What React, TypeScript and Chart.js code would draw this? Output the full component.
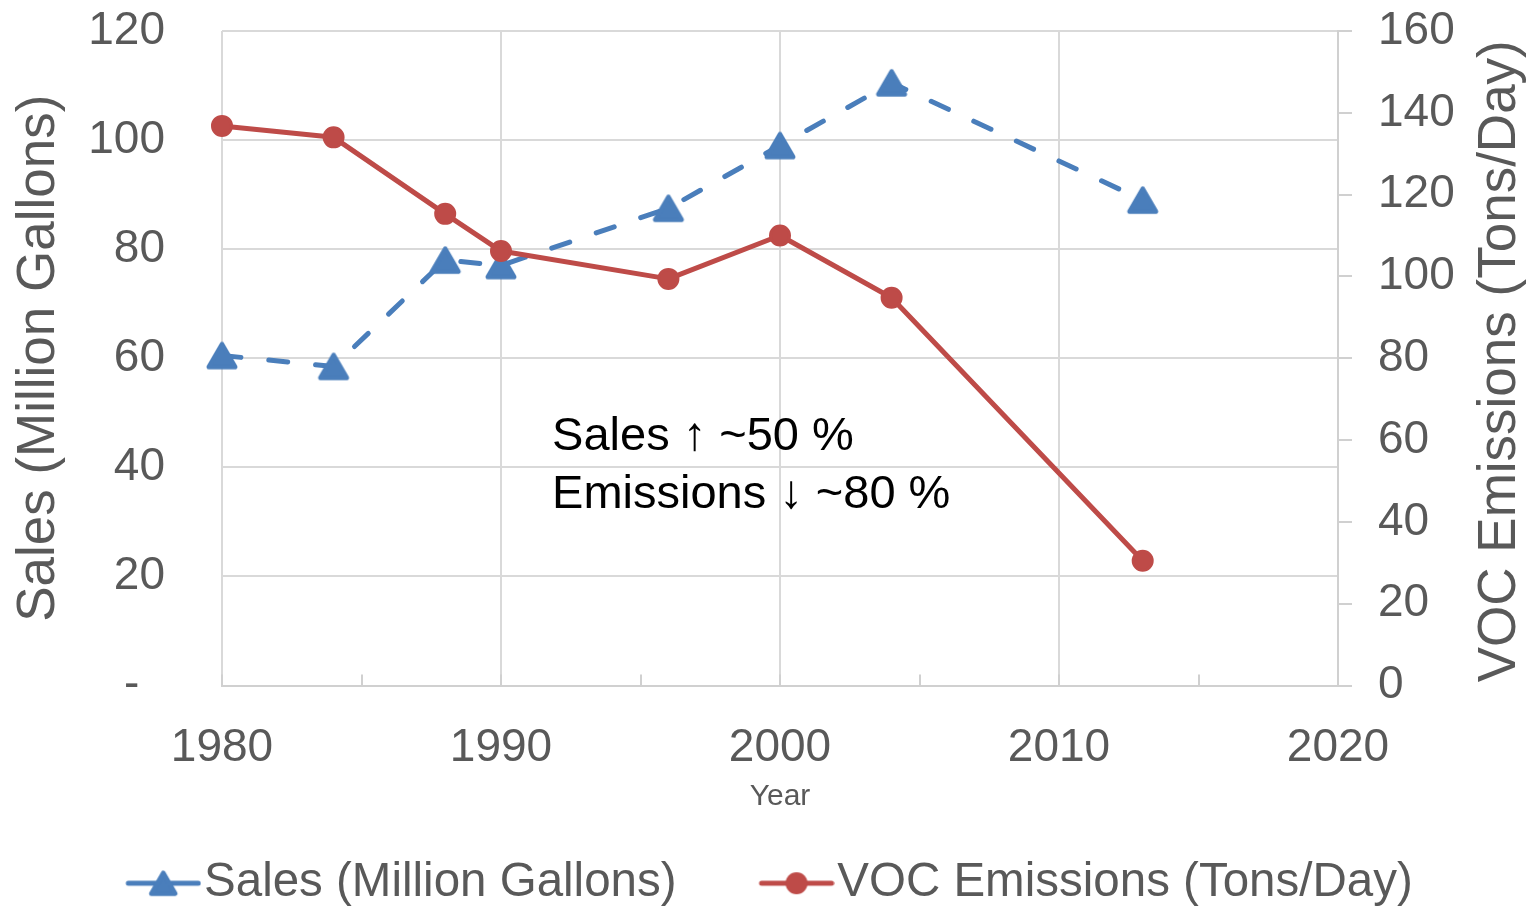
import { useEffect, useRef } from 'react';
import { Chart, registerables } from 'chart.js';

Chart.register(...registerables);

// ---------- data ----------
const YEARS = [1980, 1984, 1988, 1990, 1996, 2000, 2004, 2013];
const SALES = [60.5, 58.5, 78, 77, 87.5, 99, 110.5, 89];
const VOC = [136.8, 134, 115.3, 106.2, 99.4, 110, 94.8, 30.5];
const SALES_LABEL = 'Sales (Million Gallons)';
const VOC_LABEL = 'VOC Emissions (Tons/Day)';
const X_TITLE = 'Year';
const ANNOTATION = ['Sales \u2191 ~50 %', 'Emissions \u2193 ~80 %'];
const ANNOT_X = 1991.83; // year position of annotation text
const ANNOT_Y = 43.2; // left-axis value of first annotation baseline

// ---------- style ----------
const W = 1535;
const H = 917;
const BLUE = '#4A7EBB';
const RED = '#BE4B48';
const GRID = '#d9d9d9';
const AXIS_LINE = '#d0d0d0';
const TEXT = '#595959';
const FONT = '"Liberation Sans", Arial, sans-serif';

function drawTri(g: CanvasRenderingContext2D, cx: number, cy: number, color: string, s: number) {
  const h = (s * Math.sqrt(3)) / 2;
  g.beginPath();
  g.moveTo(cx, cy - h / 2);
  g.lineTo(cx + s / 2, cy + h / 2);
  g.lineTo(cx - s / 2, cy + h / 2);
  g.closePath();
  g.fillStyle = color;
  g.strokeStyle = color;
  g.lineWidth = 4.5;
  g.lineJoin = 'round';
  g.fill();
  g.stroke();
}

function makeTriangle(color: string) {
  const c = document.createElement('canvas');
  c.width = 34;
  c.height = 32;
  const g = c.getContext('2d')!;
  drawTri(g, 17, 16, color, 26.5);
  return c;
}

function makeLegendIcon(color: string, marker: 'triangle' | 'circle') {
  const c = document.createElement('canvas');
  c.width = 100;
  c.height = 34;
  const g = c.getContext('2d')!;
  g.strokeStyle = color;
  g.lineWidth = 5;
  g.lineCap = 'round';
  g.beginPath();
  g.moveTo(27, 17);
  g.lineTo(97, 17);
  g.stroke();
  if (marker === 'triangle') {
    drawTri(g, 62, 17, color, 24);
  } else {
    g.beginPath();
    g.arc(62, 17, 11, 0, Math.PI * 2);
    g.fillStyle = color;
    g.fill();
  }
  return c;
}

const innerTicks = {
  id: 'innerTicks',
  beforeDatasetsDraw(chart: any) {
    const x = chart.scales.x;
    const bottom = chart.chartArea.bottom;
    const ctx = chart.ctx;
    ctx.save();
    ctx.strokeStyle = AXIS_LINE;
    ctx.lineWidth = 2;
    x.ticks.forEach((t: any) => {
      const px = Math.round(x.getPixelForValue(t.value));
      ctx.beginPath();
      ctx.moveTo(px, bottom);
      ctx.lineTo(px, bottom - 11);
      ctx.stroke();
    });
    ctx.restore();
  },
};

const rightTitle = {
  id: 'rightTitle',
  afterDraw(chart: any) {
    const ctx = chart.ctx;
    const y1 = chart.scales.y1;
    const a = chart.chartArea;
    ctx.save();
    ctx.translate(y1.right - 35, (a.top + a.bottom) / 2 + 3);
    ctx.rotate(-Math.PI / 2);
    ctx.font = `53px ${FONT}`;
    ctx.fillStyle = TEXT;
    ctx.textAlign = 'center';
    ctx.textBaseline = 'middle';
    ctx.fillText(VOC_LABEL, 0, 0);
    ctx.restore();
  },
};

const annotation = {
  id: 'annotationText',
  afterDatasetsDraw(chart: any) {
    const ctx = chart.ctx;
    const x = chart.scales.x.getPixelForValue(ANNOT_X);
    const y = chart.scales.y.getPixelForValue(ANNOT_Y);
    ctx.save();
    ctx.font = `47px ${FONT}`;
    ctx.fillStyle = '#000000';
    ctx.textAlign = 'left';
    ctx.textBaseline = 'alphabetic';
    ANNOTATION.forEach((t, i) => ctx.fillText(t, x, y + i * 58));
    ctx.restore();
  },
};

export default function App() {
  const ref = useRef<HTMLCanvasElement | null>(null);

  useEffect(() => {
    document.body.style.margin = '0';
    document.body.style.overflow = 'hidden';
    const canvas = ref.current;
    if (!canvas) return;

    const triImg = makeTriangle(BLUE);
    const icons = [makeLegendIcon(BLUE, 'triangle'), makeLegendIcon(RED, 'circle')];

    const chart = new Chart(canvas, {
      type: 'line',
      data: {
        datasets: [
          {
            label: SALES_LABEL,
            data: YEARS.map((x, i) => ({ x, y: SALES[i] })),
            yAxisID: 'y',
            borderColor: BLUE,
            backgroundColor: BLUE,
            borderWidth: 5,
            borderDash: [19, 28],
            borderCapStyle: 'round',
            borderJoinStyle: 'round',
            pointStyle: triImg as any,
            pointRadius: 16,
            tension: 0,
            clip: false as any,
            order: 1,
          },
          {
            label: VOC_LABEL,
            data: YEARS.map((x, i) => ({ x, y: VOC[i] })),
            yAxisID: 'y1',
            borderColor: RED,
            backgroundColor: RED,
            borderWidth: 5,
            borderJoinStyle: 'round',
            pointStyle: 'circle',
            pointRadius: 9.5,
            pointBorderWidth: 3,
            pointBackgroundColor: RED,
            pointBorderColor: RED,
            tension: 0,
            clip: false as any,
            order: 0,
          },
        ],
      },
      options: {
        responsive: false,
        animation: false,
        devicePixelRatio: 1,
        events: [],
        layout: { padding: { top: 31, left: 0, right: 0, bottom: 0 } },
        scales: {
          x: {
            type: 'linear',
            min: 1980,
            max: 2020,
            afterFit: (s: any) => {
              s.height = 95;
            },
            ticks: {
              stepSize: 5,
              autoSkip: false,
              maxRotation: 0,
              minRotation: 0,
              padding: 35,
              color: TEXT,
              font: { family: FONT, size: 46 },
              callback: (v: any) => (Number(v) % 10 === 0 ? String(v) : ''),
            },
            grid: {
              drawTicks: false,
              lineWidth: 2,
              color: (c: any) => (c.tick && c.tick.value % 10 === 0 ? GRID : 'rgba(0,0,0,0)'),
            },
            border: { display: true, color: AXIS_LINE, width: 2 },
            title: {
              display: true,
              text: X_TITLE,
              color: TEXT,
              font: { family: FONT, size: 30 },
              padding: { top: 0, bottom: -34 },
            },
          },
          y: {
            type: 'linear',
            position: 'left',
            min: 0,
            max: 120,
            afterFit: (s: any) => {
              s.width = 222;
              s.paddingTop = 0;
              s.paddingBottom = 0;
            },
            ticks: {
              stepSize: 20,
              padding: 57,
              color: TEXT,
              font: { family: FONT, size: 46 },
              callback: (v: any) => (Number(v) === 0 ? '-  ' : String(v)),
            },
            grid: { drawTicks: false, lineWidth: 2, color: GRID },
            border: { display: false },
            title: {
              display: true,
              text: SALES_LABEL,
              color: TEXT,
              font: { family: FONT, size: 53 },
              padding: { top: 8, bottom: 0 },
            },
          },
          y1: {
            type: 'linear',
            position: 'right',
            min: 0,
            max: 160,
            afterFit: (s: any) => {
              s.width = 197;
              s.paddingTop = 0;
              s.paddingBottom = 0;
            },
            ticks: {
              stepSize: 20,
              padding: 26,
              color: TEXT,
              font: { family: FONT, size: 46 },
            },
            grid: {
              drawOnChartArea: false,
              drawTicks: true,
              tickLength: 14,
              lineWidth: 2,
              color: AXIS_LINE,
            },
            border: { display: true, color: AXIS_LINE, width: 2 },
            title: { display: false },
          },
        },
        plugins: {
          tooltip: { enabled: false },
          legend: {
            display: true,
            position: 'bottom',
            labels: {
              usePointStyle: true,
              pointStyleWidth: 58,
              padding: 79,
              color: TEXT,
              font: { family: FONT, size: 47.5 },
              generateLabels: (ch: any) => {
                const items = (Chart.defaults.plugins.legend.labels as any).generateLabels(ch);
                items.sort((a: any, b: any) => a.datasetIndex - b.datasetIndex);
                items.forEach((it: any) => {
                  it.pointStyle = icons[it.datasetIndex];
                  it.fontColor = TEXT;
                  it.lineWidth = 0;
                });
                return items;
              },
            },
          },
        },
      } as any,
      plugins: [innerTicks, annotation, rightTitle],
    });

    return () => {
      chart.destroy();
    };
  }, []);

  return <canvas ref={ref} width={W} height={H} style={{ display: 'block', width: W, height: H }} />;
}
